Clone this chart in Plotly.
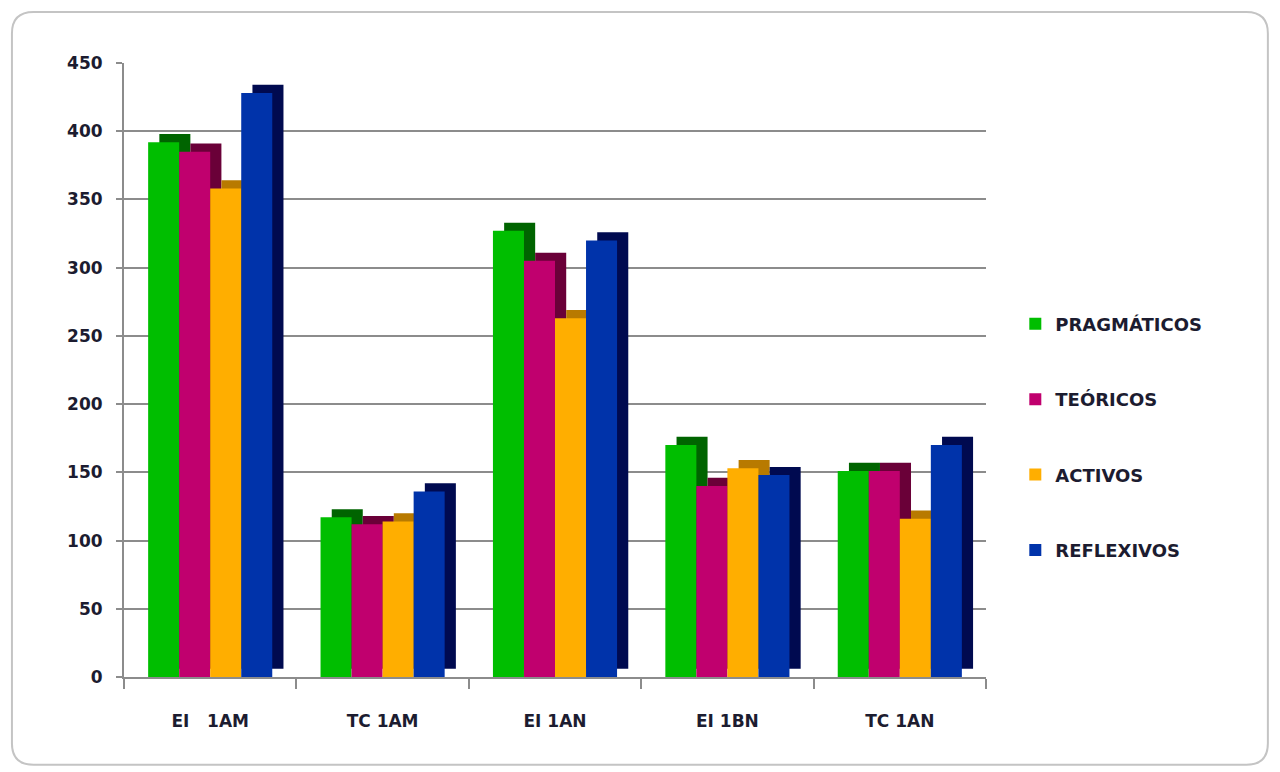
import plotly.graph_objects as go

categories = ["EI\u00a0\u00a0\u00a01AM", "TC 1AM", "EI 1AN", "EI 1BN", "TC 1AN"]
series_names = ["PRAGMÁTICOS", "TEÓRICOS", "ACTIVOS", "REFLEXIVOS"]
pragmaticos = [392, 117, 327, 170, 151]
teoricos = [385, 112, 305, 140, 151]
activos = [358, 114, 263, 153, 116]
reflexivos = [428, 136, 320, 148, 170]
y_ticks = [0, 50, 100, 150, 200, 250, 300, 350, 400, 450]

series_values = [pragmaticos, teoricos, activos, reflexivos]
front_colors = ["#00BE00", "#C0006E", "#FFAE00", "#0033AA"]
side_colors = ["#006400", "#6A0038", "#B87A00", "#000A50"]

bar_w = 0.18
offsets = [-0.36, -0.18, 0.0, 0.18]
dx = 0.065
dz = 6

fig = go.Figure()
# side/top faces (drawn behind)
for i, (name, vals) in enumerate(zip(series_names, series_values)):
    fig.add_trace(go.Bar(
        x=categories, y=vals, base=dz, width=bar_w, offset=offsets[i] + dx,
        marker=dict(color=side_colors[i], line=dict(width=0)),
        showlegend=False, hoverinfo="skip", legendgroup=name,
    ))
# front faces
for i, (name, vals) in enumerate(zip(series_names, series_values)):
    fig.add_trace(go.Bar(
        x=categories, y=vals, width=bar_w, offset=offsets[i], name=name,
        marker=dict(color=front_colors[i], line=dict(width=0)),
        legendgroup=name,
    ))

font_family = "DejaVu Sans, Verdana, sans-serif"
txt_color = "#1c1c30"

# rounded outer frame (paper coords relative to plot area)
x0, x1, y0, y1 = -0.13, 1.327, -0.143, 1.083
rx, ry = 0.025, 0.035
frame_path = (
    f"M {x0+rx},{y1} L {x1-rx},{y1} Q {x1},{y1} {x1},{y1-ry} "
    f"L {x1},{y0+ry} Q {x1},{y0} {x1-rx},{y0} "
    f"L {x0+rx},{y0} Q {x0},{y0} {x0},{y0+ry} "
    f"L {x0},{y1-ry} Q {x0},{y1} {x0+rx},{y1} Z"
)

fig.update_layout(
    width=1280, height=772,
    barmode="overlay",
    paper_bgcolor="white", plot_bgcolor="white",
    margin=dict(l=124, r=294, t=63, b=95),
    font=dict(family=font_family, size=17, color=txt_color),
    legend=dict(
        x=1.034, y=0.605, xanchor="left", yanchor="top",
        tracegroupgap=49, font=dict(size=18, family=font_family, color=txt_color, weight="bold"),
        itemwidth=30, bgcolor="rgba(0,0,0,0)",
    ),
    xaxis=dict(
        type="category", showgrid=False, showline=True, linecolor="#8c8c8c", linewidth=2,
        ticks="outside", tickson="boundaries", ticklen=10, tickcolor="#8c8c8c", tickwidth=2,
        tickfont=dict(size=17, weight="bold", family=font_family, color=txt_color),
        ticklabelstandoff=28, range=[-0.5, 4.5],
    ),
    yaxis=dict(
        range=[0, 450], tickvals=y_ticks, showgrid=True, gridcolor="#8c8c8c", gridwidth=2,
        showline=True, linecolor="#8c8c8c", linewidth=2, zeroline=False,
        ticks="outside", ticklen=6, tickcolor="#8c8c8c", tickwidth=2,
        tickfont=dict(size=17, weight="bold", family=font_family, color=txt_color),
        ticklabelstandoff=10,
    ),
    shapes=[dict(
        type="path", xref="paper", yref="paper", path=frame_path,
        line=dict(color="#c4c4c4", width=2), layer="below",
    )],
)

fig.write_html("out.html")
